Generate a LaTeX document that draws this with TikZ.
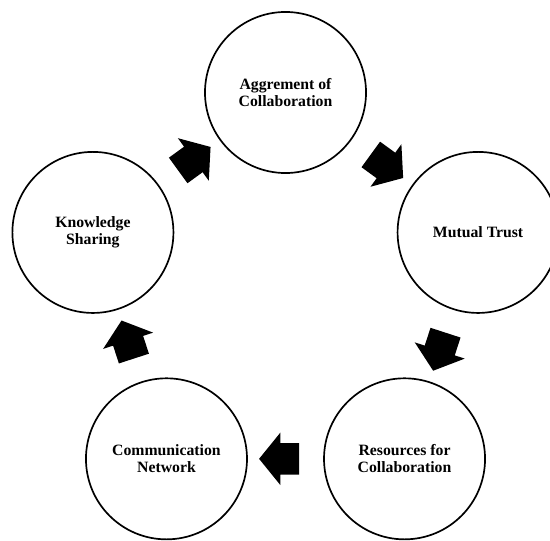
\documentclass[tikz,border=0pt]{standalone}
\usepackage{fontspec}
\setmainfont{Liberation Serif}
\usetikzlibrary{calc,shapes.arrows}
\tikzset{
  stage/.style={circle, draw=black, line width=1.2pt, minimum size=4.025cm, inner sep=0pt, align=center, font=\fontsize{11.2}{12.1}\selectfont\bfseries},
  bigarrow/.style={single arrow, fill=black, draw=none, inner sep=0pt, inner ysep=0.3875cm, minimum height=1cm, minimum width=1.3cm, single arrow head extend=0.2625cm, single arrow tip angle=102}
}
% block arrow half way between two stages
\newcommand\cyclearrow[2]{%
  \path let \p1=($(#2)-(#1)$), \n1={atan2(\y1,\x1)} in
    ($(#1)!0.5!(#2)$) node[bigarrow, rotate=\n1, name=#1-#2] {};
}

\begin{document}
\begin{tikzpicture}[x=0.025cm, y=0.025cm]
  \useasboundingbox (0,0) rectangle (550,540);
  \clip (0,0) rectangle (550,540);
  \coordinate (c) at (285.5,245);

  \node[stage] (agree) at ($(c)+(90:202.5)$) {Aggrement of\\Collaboration};
  \node[stage] (trust) at ($(c)+(18:202.5)$) {Mutual Trust};
  \node[stage] (resources) at ($(c)+(-54:202.5)$) {Resources for\\Collaboration};
  \node[stage] (network) at ($(c)+(-126:202.5)$) {Communication\\Network};
  \node[stage] (knowledge) at ($(c)+(162:202.5)$) {Knowledge\\Sharing};

  \cyclearrow{agree}{trust}
  \cyclearrow{trust}{resources}
  \cyclearrow{resources}{network}
  \cyclearrow{network}{knowledge}
  \cyclearrow{knowledge}{agree}
\end{tikzpicture}
\end{document}
